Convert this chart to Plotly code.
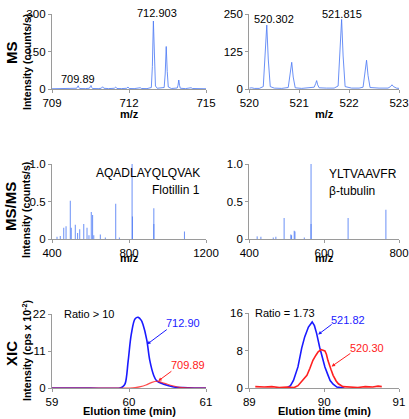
import plotly.graph_objects as go

# ---------------- data ----------------
# MS panel 1 (m/z 709-715) profile spectrum
ms1_mz = [709.00, 709.30, 709.60, 709.90, 709.96, 709.99, 710.02, 710.05, 710.08,
          710.30, 710.46, 710.49, 710.52, 710.55, 710.58, 710.80, 710.92, 710.97,
          711.02, 711.20, 711.43, 711.48, 711.53, 711.70, 711.91, 711.96, 712.01,
          712.20, 712.39, 712.44, 712.49, 712.70, 712.87, 712.91, 712.95, 712.99,
          713.03, 713.10, 713.37, 713.41, 713.45, 713.49, 713.53, 713.65, 713.88,
          713.91, 713.94, 713.97, 714.00, 714.20, 714.37, 714.42, 714.47, 714.70,
          715.00]
ms1_int = [1, 1.5, 1, 1.5, 3, 8, 13, 6, 2,
           1.5, 3, 9, 14, 6, 2, 1.5, 3, 9,
           3, 1.5, 3, 8, 2, 1.5, 3, 8, 2,
           1.5, 2, 5, 2, 1.5, 6, 90, 272, 110,
           12, 3, 6, 60, 170, 70, 8, 2, 4,
           15, 36, 14, 3, 1.5, 2, 5, 2, 1.5,
           1]

# MS panel 2 (m/z 520-523)
ms2_mz = [520.00, 520.05, 520.10, 520.20, 520.28, 520.32, 520.35, 520.38, 520.42,
          520.50, 520.65, 520.78, 520.82, 520.85, 520.88, 520.92, 521.05, 521.20,
          521.30, 521.33, 521.35, 521.37, 521.40, 521.55, 521.70, 521.78, 521.82,
          521.85, 521.88, 521.92, 522.05, 522.20, 522.28, 522.32, 522.35, 522.38,
          522.42, 522.60, 522.78, 522.83, 522.86, 522.89, 522.95, 523.00]
ms2_int = [3, 4, 2, 2, 8, 120, 213, 100, 8,
           3, 2, 5, 50, 89, 40, 4, 2, 3,
           6, 18, 28, 14, 4, 3, 3, 10, 130,
           232, 110, 8, 3, 3, 6, 55, 96, 45,
           5, 3, 3, 8, 14, 8, 3, 2]

# MS/MS panel 3 (AQADLAYQLQVAK) stick spectrum
msms1_mz = [426, 443, 461, 473, 495, 500, 521, 533, 544, 565, 582, 592, 604, 611,
            617, 651, 677, 731, 750, 816, 818, 929, 929, 1088]
msms1_int = [0.03, 0.04, 0.15, 0.17, 0.51, 0.15, 0.19, 0.08, 0.13, 0.20, 0.15, 0.05,
             0.36, 0.32, 0.05, 0.06, 0.02, 0.47, 0.02, 1.00, 0.30, 0.41, 0.20, 0.10]

# MS/MS panel 4 (YLTVAAVFR)
msms2_mz = [421, 431, 464, 471, 493, 511, 513, 520, 522, 547, 565, 565, 664, 765]
msms2_int = [0.035, 0.03, 0.02, 0.03, 0.28, 0.06, 0.05, 0.11, 0.10, 0.02, 1.00, 0.20,
             0.28, 0.39]

# XIC panel 5
xic1_blue_t = [59.00, 59.50, 59.88, 59.92, 59.95, 59.99, 60.03, 60.08, 60.12, 60.16,
               60.18, 60.23, 60.27, 60.32, 60.36, 60.45, 60.58, 60.70, 60.85, 61.00]
xic1_blue_i = [0, 0, 0, 0.4, 1.3, 8.2, 16.0, 20.6, 21.0, 20.1,
               19.0, 14.4, 8.2, 3.8, 2.1, 1.1, 0.3, 0.1, 0, 0]
xic1_red_t = [59.00, 60.00, 60.08, 60.15, 60.22, 60.29, 60.36, 60.42, 60.50, 60.58,
              60.66, 60.75, 61.00]
xic1_red_i = [0, 0, 0.1, 0.4, 0.9, 1.6, 2.0, 1.7, 1.1, 0.6, 0.2, 0.05, 0]

# XIC panel 6
xic2_blue_t = [89.50, 89.55, 89.59, 89.65, 89.70, 89.74, 89.79, 89.84, 89.87, 89.90,
               89.94, 89.98, 90.01, 90.05, 90.08, 90.12, 90.17, 90.22, 90.27]
xic2_blue_i = [0, 0.5, 1.6, 4.5, 8.5, 10.9, 13.0, 14.1, 13.3, 11.6,
               8.7, 6.2, 4.5, 2.8, 1.6, 0.8, 0.2, 0.1, 0]
xic2_red_t = [89.08, 89.20, 89.30, 89.40, 89.50, 89.60, 89.65, 89.71, 89.77, 89.81,
              89.85, 89.89, 89.92, 89.96, 89.99, 90.01, 90.03, 90.05, 90.09, 90.12,
              90.16, 90.19, 90.25, 90.35, 90.45, 90.55, 90.65, 90.72, 90.77]
xic2_red_i = [0.3, 0.2, 0.3, 0.1, 0.2, 0.1, 0.5, 1.5, 2.7, 4.2,
              5.9, 7.0, 7.7, 8.2, 8.0, 7.9, 7.2, 5.9, 4.0, 2.7,
              1.5, 0.9, 0.3, 0.2, 0.1, 0.3, 0.2, 0.4, 0.3]

# tick labels
ms1_ticks = [709, 712, 715]
ms1_yticks = [0, 150, 300]
ms2_ticks = [520, 521, 522, 523]
ms2_yticks = [0, 125, 250]
msms1_ticks = [400, 800, 1200]
msms2_ticks = [400, 600, 800]
msms_yticks = [0, 0.5, 1.0]
msms_yticklabels = ["0", "0.5", "1.0"]
xic1_ticks = [59, 60, 61]
xic1_yticks = [0, 11, 22]
xic2_ticks = [89, 90, 91]
xic2_yticks = [0, 8, 16]

# ---------------- figure ----------------
W, H = 409, 419
FONT = "Liberation Sans, Arial, sans-serif"
SPEC = "rgba(80,125,245,0.85)"
BLUE = "#1a1aff"
RED = "#ff2020"


def px(x):
    return x / W


def py(y):
    return 1 - y / H


fig = go.Figure()


def sticks(mz, inten):
    xs, ys = [], []
    for m, h in zip(mz, inten):
        xs += [m, m, None]
        ys += [0, h, None]
    return xs, ys


fig.add_trace(go.Scatter(x=ms1_mz, y=ms1_int, mode="lines", line=dict(color=SPEC, width=1),
                         xaxis="x", yaxis="y"))
fig.add_trace(go.Scatter(x=ms2_mz, y=ms2_int, mode="lines", line=dict(color=SPEC, width=1),
                         xaxis="x2", yaxis="y2"))
sx, sy = sticks(msms1_mz, msms1_int)
fig.add_trace(go.Scatter(x=sx, y=sy, mode="lines", line=dict(color=SPEC, width=1),
                         xaxis="x3", yaxis="y3"))
sx, sy = sticks(msms2_mz, msms2_int)
fig.add_trace(go.Scatter(x=sx, y=sy, mode="lines", line=dict(color=SPEC, width=1),
                         xaxis="x4", yaxis="y4"))
fig.add_trace(go.Scatter(x=xic1_blue_t, y=xic1_blue_i, mode="lines", line=dict(color=BLUE, width=1.6, shape="spline"),
                         xaxis="x5", yaxis="y5"))
fig.add_trace(go.Scatter(x=xic1_red_t, y=xic1_red_i, mode="lines", line=dict(color=RED, width=1.2, shape="spline"),
                         xaxis="x5", yaxis="y5", opacity=0.8))
fig.add_trace(go.Scatter(x=xic2_blue_t, y=xic2_blue_i, mode="lines", line=dict(color=BLUE, width=1.6),
                         xaxis="x6", yaxis="y6"))
fig.add_trace(go.Scatter(x=xic2_red_t, y=xic2_red_i, mode="lines", line=dict(color=RED, width=1.6),
                         xaxis="x6", yaxis="y6"))

axis_common = dict(showline=True, linecolor="#9a9a9a", linewidth=1.3, ticks="outside",
                   ticklen=3, tickcolor="#9a9a9a", tickwidth=1, showgrid=False, zeroline=False,
                   automargin=False,
                   tickfont=dict(family=FONT, size=11.5, color="black"), fixedrange=True)

XL = [px(52), px(206)]
XR = [px(249.3), px(399)]
Y1 = [py(89), py(14)]
Y2 = [py(239), py(164)]
Y3 = [py(388), py(314)]
Y3R = [py(388), py(313)]

layout_axes = {
    "xaxis": dict(domain=XL, range=[709, 715], anchor="y", tickvals=ms1_ticks),
    "yaxis": dict(domain=Y1, range=[0, 300], anchor="x", tickvals=ms1_yticks),
    "xaxis2": dict(domain=XR, range=[520, 523], anchor="y2", tickvals=ms2_ticks),
    "yaxis2": dict(domain=Y1, range=[0, 250], anchor="x2", tickvals=ms2_yticks),
    "xaxis3": dict(domain=XL, range=[400, 1200], anchor="y3", tickvals=msms1_ticks),
    "yaxis3": dict(domain=Y2, range=[0, 1.0], anchor="x3", tickvals=msms_yticks, ticktext=msms_yticklabels),
    "xaxis4": dict(domain=XR, range=[400, 800], anchor="y4", tickvals=msms2_ticks),
    "yaxis4": dict(domain=Y2, range=[0, 1.0], anchor="x4", tickvals=msms_yticks, ticktext=msms_yticklabels),
    "xaxis5": dict(domain=XL, range=[59, 61], anchor="y5", tickvals=xic1_ticks),
    "yaxis5": dict(domain=Y3, range=[0, 22], anchor="x5", tickvals=xic1_yticks),
    "xaxis6": dict(domain=XR, range=[89, 91], anchor="y6", tickvals=xic2_ticks),
    "yaxis6": dict(domain=Y3R, range=[0, 16], anchor="x6", tickvals=xic2_yticks),
}
for k, v in layout_axes.items():
    d = dict(axis_common)
    d.update(v)
    layout_axes[k] = d

annotations = []


def text(x, y, s, size=11, color="black", bold=False, xanchor="center", angle=0):
    if bold:
        s = "<b>" + s + "</b>"
    annotations.append(dict(x=px(x), y=py(y), xref="paper", yref="paper", text=s, showarrow=False,
                            xanchor=xanchor, yanchor="middle", textangle=angle,
                            font=dict(family=FONT, size=size, color=color)))


def arrow(xa, ya, x0, y0, x1, y1, color):
    annotations.append(dict(x=x1, y=y1, ax=x0, ay=y0, xref=xa, yref=ya, axref=xa, ayref=ya,
                            text="", showarrow=True, arrowhead=2, arrowsize=0.7,
                            arrowwidth=1, arrowcolor=color))


# row labels
text(12, 53, "MS", size=15, bold=True, angle=-90)
text(27, 62, "Intensity (counts/s)", size=10.5, bold=True, angle=-90)
text(11, 207, "MS/MS", size=15, bold=True, angle=-90)
text(26, 210, "Intensity (counts/s)", size=10.5, bold=True, angle=-90)
text(11, 354, "XIC", size=15, bold=True, angle=-90)
text(26, 351, "Intensity (cps x 10<sup>-2</sup>)", size=10.5, bold=True, angle=-90)

# x titles
text(129, 114, "m/z", size=11, bold=True)
text(324, 114, "m/z", size=11, bold=True)
text(129, 258, "m/z", size=11, bold=True)
text(324, 258, "m/z", size=11, bold=True)
text(129, 411, "Elution time (min)", size=11, bold=True)
text(324, 411, "Elution time (min)", size=11, bold=True)

# MS peak labels
text(157, 13, "712.903", size=11)
text(78, 79, "709.89", size=11)
text(274, 19, "520.302", size=11)
text(342, 14, "521.815", size=11)

# MS/MS labels
text(202, 173, "AQADLAYQLQVAK", size=12, xanchor="right")
text(202, 190, "Flotillin 1", size=12, xanchor="right")
text(327, 174, "YLTVAAVFR", size=12, xanchor="left")
text(327, 191, "β-tubulin", size=12, xanchor="left")

# XIC labels
text(89, 314, "Ratio &gt; 10", size=11)
text(183, 323, "712.90", size=11, color=BLUE)
text(188, 365, "709.89", size=11, color=RED)
text(285, 313, "Ratio = 1.73", size=11)
text(348, 320, "521.82", size=11, color=BLUE)
text(367, 348, "520.30", size=11, color=RED)

arrow("x5", "y5", 60.51, 17.7, 60.235, 13.0, BLUE)
arrow("x5", "y5", 60.57, 5.3, 60.38, 2.1, RED)
arrow("x6", "y6", 90.12, 13.8, 89.92, 11.4, BLUE)
arrow("x6", "y6", 90.37, 7.6, 90.10, 4.6, RED)

fig.update_layout(template="none", width=W, height=H, margin=dict(l=0, r=0, t=0, b=0, pad=0),
                  showlegend=False, autosize=False,
                  paper_bgcolor="white", plot_bgcolor="white", annotations=annotations,
                  **layout_axes)

fig.write_html("out.html", config={"displayModeBar": False},
               post_script="document.body.style.margin='0';document.body.style.padding='0';"
                           "document.body.style.overflow='hidden';")
